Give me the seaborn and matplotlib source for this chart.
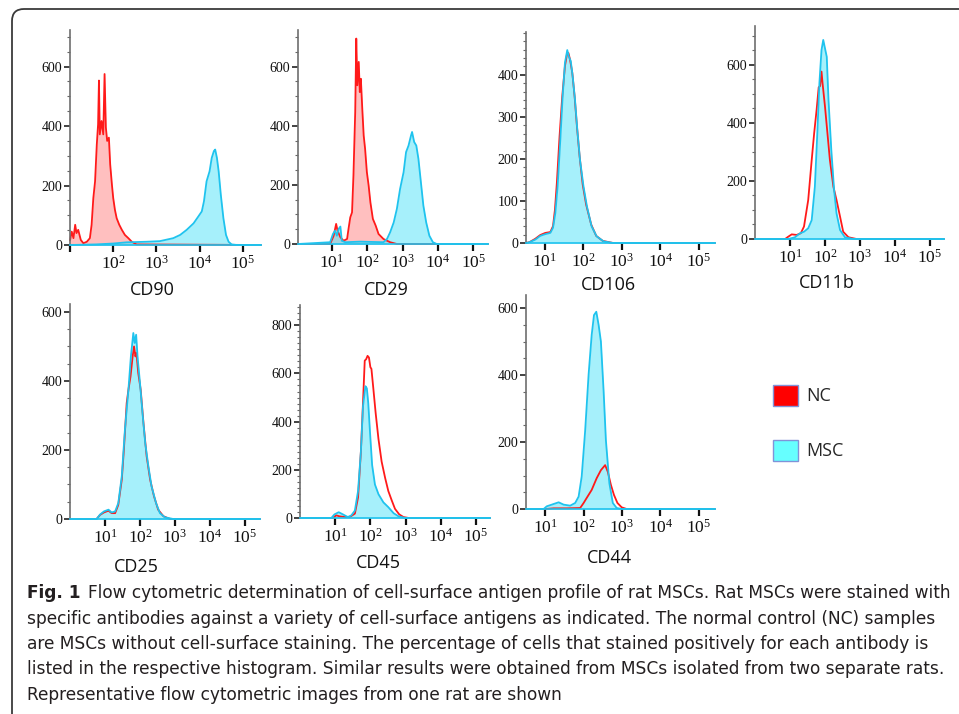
import matplotlib
matplotlib.use('Agg')
import matplotlib.pyplot as plt  # tracé
import seaborn as sns  # style et courbes
from matplotlib import font_manager
from matplotlib.patches import FancyBboxPatch, Patch
from matplotlib.transforms import IdentityTransform
from matplotlib.ticker import MultipleLocator

# Données : abscisse en log10 de l'intensité, ordonnée en nombre de cellules
cd90_nc_x = [1.00, 1.04, 1.08, 1.12, 1.15, 1.19, 1.25, 1.31, 1.39, 1.46, 1.50, 1.54, 1.58, 1.62, 1.65, 1.67, 1.69,
             1.73, 1.77, 1.80, 1.83, 1.86, 1.90, 1.93, 1.97, 2.00, 2.04, 2.08, 2.14, 2.20, 2.27, 2.35, 2.43, 2.54, 5.42]
cd90_nc_y = [15, 45, 23, 68, 40, 51, 17, 6, 11, 23, 68, 158, 214, 338, 406, 553, 372,
             417, 372, 575, 395, 350, 361, 271, 203, 158, 118, 90, 68, 51, 34, 23, 11, 2, 0]
cd90_msc_x = [1.00, 1.60, 2.00, 2.31, 2.78, 3.08, 3.39, 3.55, 3.70, 3.86, 3.97, 4.05, 4.10, 4.16, 4.23, 4.28, 4.33,
              4.36, 4.40, 4.44, 4.49, 4.55, 4.61, 4.67, 4.74, 4.86, 5.42]
cd90_msc_y = [0, 2, 5, 9, 11, 13, 23, 34, 51, 73, 96, 113, 147, 214, 248, 293, 316,
              321, 293, 248, 169, 90, 34, 11, 2, 0, 0]

cd29_nc_x = [0.04, 0.95, 1.05, 1.12, 1.16, 1.24, 1.33, 1.43, 1.47, 1.52, 1.57, 1.61, 1.66, 1.69, 1.72, 1.76, 1.79,
             1.82, 1.86, 1.90, 1.94, 1.99, 2.04, 2.09, 2.16, 2.24, 2.32, 2.46, 2.65, 2.84, 5.42]
cd29_nc_y = [0, 0, 28, 68, 45, 23, 11, 17, 51, 90, 107, 232, 446, 695, 537, 616, 514,
             559, 458, 367, 322, 243, 198, 141, 85, 62, 34, 17, 6, 0, 0]
cd29_msc_x = [0.04, 0.95, 1.03, 1.09, 1.14, 1.19, 1.24, 1.28, 1.38, 1.80, 2.46, 2.56, 2.65, 2.75, 2.84, 2.93, 3.03,
              3.10, 3.17, 3.24, 3.27, 3.33, 3.39, 3.45, 3.52, 3.59, 3.67, 3.76, 3.86, 3.97, 5.42]
cd29_msc_y = [0, 6, 34, 45, 28, 51, 59, 11, 6, 8, 6, 17, 40, 73, 119, 186, 243,
              311, 333, 367, 379, 345, 333, 288, 209, 130, 73, 28, 6, 0, 0]

cd106_nc_x = [0.52, 0.61, 0.76, 0.89, 1.02, 1.15, 1.22, 1.27, 1.32, 1.39, 1.46, 1.53, 1.58, 1.62, 1.66, 1.72, 1.78,
              1.84, 1.91, 1.99, 2.08, 2.21, 2.34, 2.51, 2.78, 5.42]
cd106_nc_y = [0, 2, 10, 19, 24, 26, 40, 79, 143, 254, 349, 421, 448, 452, 437, 405, 349,
              278, 206, 139, 91, 44, 17, 5, 0, 0]
cd106_msc_x = [0.52, 0.61, 0.76, 0.89, 1.02, 1.15, 1.22, 1.28, 1.34, 1.41, 1.47, 1.53, 1.59, 1.63, 1.68, 1.73, 1.79,
               1.85, 1.92, 2.01, 2.10, 2.22, 2.35, 2.53, 2.78, 5.42]
cd106_msc_y = [0, 2, 8, 17, 21, 24, 36, 71, 135, 246, 349, 429, 459, 444, 433, 397, 341,
               270, 198, 135, 87, 40, 16, 4, 0, 0]

cd11b_nc_x = [0.00, 0.86, 0.95, 1.05, 1.19, 1.31, 1.40, 1.52, 1.62, 1.69, 1.76, 1.82, 1.86, 1.90, 1.93, 2.00, 2.07,
              2.14, 2.24, 2.33, 2.43, 2.52, 2.67, 2.90, 5.40]
cd11b_nc_y = [0, 0, 8, 16, 14, 20, 43, 134, 272, 364, 445, 523, 527, 577, 537, 456, 364,
              272, 180, 134, 77, 25, 6, 0, 0]
cd11b_msc_x = [0.00, 0.95, 1.14, 1.29, 1.40, 1.52, 1.62, 1.71, 1.78, 1.84, 1.90, 1.95, 2.01, 2.05, 2.10, 2.18, 2.26,
               2.33, 2.43, 2.57, 2.81, 5.40]
cd11b_msc_y = [0, 0, 6, 20, 25, 37, 65, 180, 364, 537, 651, 686, 651, 628, 479, 307, 169,
               88, 31, 6, 0, 0]

cd25_nc_x = [0.00, 0.76, 0.86, 0.97, 1.10, 1.19, 1.29, 1.38, 1.48, 1.54, 1.62, 1.67, 1.73, 1.79, 1.83, 1.87, 1.90,
             1.95, 2.02, 2.10, 2.19, 2.29, 2.40, 2.52, 2.67, 2.86, 5.43]
cd25_nc_y = [0, 0, 12, 19, 24, 17, 17, 41, 114, 201, 336, 375, 413, 471, 500, 471, 481,
             423, 375, 278, 182, 114, 66, 27, 8, 0, 0]
cd25_msc_x = [0.00, 0.76, 0.86, 0.97, 1.10, 1.19, 1.29, 1.38, 1.48, 1.57, 1.67, 1.74, 1.81, 1.85, 1.89, 1.93, 2.00,
              2.08, 2.15, 2.24, 2.33, 2.46, 2.57, 2.71, 2.95, 5.43]
cd25_msc_y = [0, 0, 13, 22, 27, 19, 22, 46, 124, 259, 375, 471, 539, 510, 534, 471, 394,
              298, 220, 153, 95, 46, 17, 5, 0, 0]

cd45_nc_x = [0.00, 0.93, 1.03, 1.12, 1.27, 1.41, 1.56, 1.65, 1.73, 1.79, 1.84, 1.88, 1.92, 1.96, 2.00, 2.03, 2.08,
             2.15, 2.23, 2.32, 2.42, 2.51, 2.61, 2.70, 2.82, 2.94, 3.09, 5.40]
cd45_nc_y = [0, 0, 11, 7, 4, 4, 18, 85, 274, 477, 653, 659, 673, 666, 626, 619, 544,
             436, 328, 234, 166, 112, 72, 38, 15, 4, 0, 0]
cd45_msc_x = [0.00, 0.89, 0.98, 1.10, 1.22, 1.36, 1.46, 1.56, 1.65, 1.73, 1.79, 1.86, 1.90, 1.94, 1.99, 2.05, 2.13,
              2.23, 2.37, 2.51, 2.66, 2.80, 2.99, 5.40]
cd45_msc_y = [0, 0, 15, 24, 15, 4, 11, 31, 112, 274, 463, 547, 538, 477, 355, 220, 139,
              99, 65, 45, 20, 7, 0, 0]

cd44_nc_x = [0.50, 1.00, 1.22, 1.56, 1.91, 2.00, 2.08, 2.21, 2.34, 2.45, 2.56, 2.63, 2.71, 2.79, 2.88, 2.99, 3.12, 5.42]
cd44_nc_y = [0, 0, 2, 2, 3, 18, 33, 57, 92, 116, 131, 111, 72, 42, 18, 5, 0, 0]
cd44_msc_x = [0.50, 0.96, 1.04, 1.17, 1.35, 1.48, 1.65, 1.78, 1.87, 1.95, 2.04, 2.13, 2.21, 2.27, 2.33, 2.39, 2.45,
              2.52, 2.58, 2.67, 2.76, 2.86, 2.99, 5.42]
cd44_msc_y = [0, 0, 8, 13, 20, 13, 10, 18, 37, 97, 234, 402, 520, 579, 589, 550, 500,
              353, 205, 77, 18, 3, 0, 0]

# Étiquettes de l'axe des x
decades = [1, 2, 3, 4, 5]
decade_labels = [r'$\mathregular{10^{%d}}$' % d for d in decades]

legend_labels = ['NC', 'MSC']

caption_bold = 'Fig. 1'
caption_lines = [
    'Flow cytometric determination of cell-surface antigen profile of rat MSCs. Rat MSCs were stained with',
    'specific antibodies against a variety of cell-surface antigens as indicated. The normal control (NC) samples',
    'are MSCs without cell-surface staining. The percentage of cells that stained positively for each antibody is',
    'listed in the respective histogram. Similar results were obtained from MSCs isolated from two separate rats.',
    'Representative flow cytometric images from one rat are shown',
]

# Mise en page des panneaux (pixels : gauche, droite, bas, haut), limites et graduations
panels = [
    dict(name='CD90', nc=(cd90_nc_x, cd90_nc_y), msc=(cd90_msc_x, cd90_msc_y), box=(70, 261, 245, 30),
         xlim=(1.0, 5.42), ylim=723, step=200, minor=50, fill_nc=True, label=(152, 290), first_label=False),
    dict(name='CD29', nc=(cd29_nc_x, cd29_nc_y), msc=(cd29_msc_x, cd29_msc_y), box=(298, 488, 244, 30),
         xlim=(0.04, 5.42), ylim=724, step=200, minor=50, fill_nc=True, label=(386, 290), first_label=True),
    dict(name='CD106', nc=(cd106_nc_x, cd106_nc_y), msc=(cd106_msc_x, cd106_msc_y), box=(526, 715, 243, 32),
         xlim=(0.52, 5.42), ylim=502, step=100, minor=20, fill_nc=False, label=(608, 285), first_label=True),
    dict(name='CD11b', nc=(cd11b_nc_x, cd11b_nc_y), msc=(cd11b_msc_x, cd11b_msc_y), box=(755, 944, 239, 26),
         xlim=(0.0, 5.4), ylim=734, step=200, minor=50, fill_nc=False, label=(827, 283), first_label=True),
    dict(name='CD25', nc=(cd25_nc_x, cd25_nc_y), msc=(cd25_msc_x, cd25_msc_y), box=(70, 260, 519, 304),
         xlim=(0.0, 5.43), ylim=623, step=200, minor=50, fill_nc=False, label=(136, 567), first_label=True),
    dict(name='CD45', nc=(cd45_nc_x, cd45_nc_y), msc=(cd45_msc_x, cd45_msc_y), box=(300, 490, 518, 305),
         xlim=(0.0, 5.4), ylim=884, step=200, minor=25, fill_nc=False, label=(378, 563), first_label=True),
    dict(name='CD44', nc=(cd44_nc_x, cd44_nc_y), msc=(cd44_msc_x, cd44_msc_y), box=(526, 715, 509, 295),
         xlim=(0.5, 5.42), ylim=639, step=200, minor=50, fill_nc=False, label=(609, 558), first_label=True),
]

# Couleurs
NC_LINE = '#ff1a1a'
NC_FILL = '#ff3a3a'
MSC_LINE = '#1fc3ee'
MSC_FILL = '#5ee4f8'

sns.set_theme(style='ticks')

# Choix des polices installées
installed = {f.name for f in font_manager.fontManager.ttflist}
narrow = sorted({(f.name, f.stretch) for f in font_manager.fontManager.ttflist
                 if 'ondensed' in f.fname or 'arrow' in f.fname})
serif = 'Liberation Serif' if 'Liberation Serif' in installed else 'DejaVu Serif'
label_font = 'Open Sans' if 'Open Sans' in installed else 'DejaVu Sans'
caption_font = 'Liberation Sans Narrow' if 'Liberation Sans Narrow' in installed else 'DejaVu Sans'
plt.rcParams['font.family'] = [label_font, 'DejaVu Sans']

W, H = 959, 714
fig = plt.figure(figsize=(W / 100, H / 100), dpi=100)
fig.patch.set_facecolor('white')

for p in panels:
    left, right, bottom, top = p['box']
    ax = fig.add_axes([left / W, 1 - bottom / H, (right - left) / W, (bottom - top) / H])
    ax.set_facecolor('none')

    nc_x, nc_y = p['nc']
    msc_x, msc_y = p['msc']

    # Contrôle négatif (NC) puis MSC par-dessus
    if p['fill_nc']:
        ax.fill_between(nc_x, nc_y, 0, color=NC_FILL, alpha=0.32, linewidth=0)
    sns.lineplot(x=nc_x, y=nc_y, ax=ax, color=NC_LINE, linewidth=1.3, sort=False, clip_on=False)
    ax.fill_between(msc_x, msc_y, 0, color=MSC_FILL, alpha=0.55, linewidth=0)
    sns.lineplot(x=msc_x, y=msc_y, ax=ax, color=MSC_LINE, linewidth=1.3, sort=False, clip_on=False)

    ax.set_xlim(*p['xlim'])
    ax.set_ylim(0, p['ylim'])

    # Axe des y : graduations majeures et mineures
    yt = list(range(0, int(p['ylim']) - 5, p['step']))
    ax.set_yticks(yt, labels=[str(v) for v in yt], fontfamily=serif, fontsize=10)
    ax.yaxis.set_minor_locator(MultipleLocator(p['minor']))
    ax.tick_params(axis='y', which='major', length=4, width=1.2, color='#222222', pad=1.5, labelcolor='#111111')
    ax.tick_params(axis='y', which='minor', length=2.5, width=0.8, color='#666666')

    # Axe des x : décades
    labs = list(decade_labels)
    if not p['first_label']:
        labs[0] = ''
    ax.set_xticks(decades, labels=labs, fontfamily=serif, fontsize=12.5)
    ax.tick_params(axis='x', which='major', length=5, width=1.6, color='#111111', pad=2, labelcolor='#111111')
    ax.tick_params(axis='x', which='minor', bottom=False)

    sns.despine(ax=ax)
    ax.spines['left'].set_color('#6e6e6e')
    ax.spines['left'].set_linewidth(1.2)
    ax.spines['bottom'].set_color(MSC_LINE)
    ax.spines['bottom'].set_linewidth(1.2)
    ax.set_xlabel('')
    ax.set_ylabel('')

    # Nom du marqueur sous le panneau
    fig.text(p['label'][0] / W, 1 - p['label'][1] / H, p['name'], ha='center', va='center',
             fontsize=13, color='#111111', family=[label_font, 'DejaVu Sans'])

# Légende
handles = [Patch(facecolor='#ff0000', edgecolor='#8193d8', linewidth=1.0, label=legend_labels[0]),
           Patch(facecolor='#66ffff', edgecolor='#8193d8', linewidth=1.0, label=legend_labels[1])]
fig.legend(handles=handles, loc='upper left', bbox_to_anchor=(773 / W, 1 - 385 / H), frameon=False,
           fontsize=13, handlelength=1.38, handleheight=1.38, labelspacing=1.9, handletextpad=0.45,
           borderpad=0, borderaxespad=0)

# Cadre arrondi autour de la figure
frame = FancyBboxPatch((12, -30), 990, 735, boxstyle='round,pad=0,rounding_size=12',
                       transform=IdentityTransform(), fill=False, edgecolor='#3a3a3a', linewidth=1.3)
fig.add_artist(frame)

# Légende de la figure, taille ajustée à la largeur du texte d'origine
renderer = fig.canvas.get_renderer()
base = 13
probe = fig.text(0, 0, caption_lines[1], fontsize=base, family=[caption_font, 'DejaVu Sans'])
width = probe.get_window_extent(renderer).width
probe.remove()
cap_size = base * (936 - 27) / width

line_y = [593, 619, 644, 669, 695]
bold = fig.text(27 / W, 1 - line_y[0] / H, caption_bold, fontsize=cap_size, fontweight='bold', va='center',
                color='#231f20', family=[caption_font, 'DejaVu Sans'])
bx = bold.get_window_extent(renderer).x1
fig.text((bx + 8) / W, 1 - line_y[0] / H, caption_lines[0], fontsize=cap_size, va='center',
         color='#231f20', family=[caption_font, 'DejaVu Sans'])
for txt, y in zip(caption_lines[1:], line_y[1:]):
    fig.text(27 / W, 1 - y / H, txt, fontsize=cap_size, va='center', color='#231f20',
             family=[caption_font, 'DejaVu Sans'])

fig.savefig('out.png', dpi=100, facecolor='white')
print(serif, label_font, caption_font, round(cap_size, 2))
print(narrow)
